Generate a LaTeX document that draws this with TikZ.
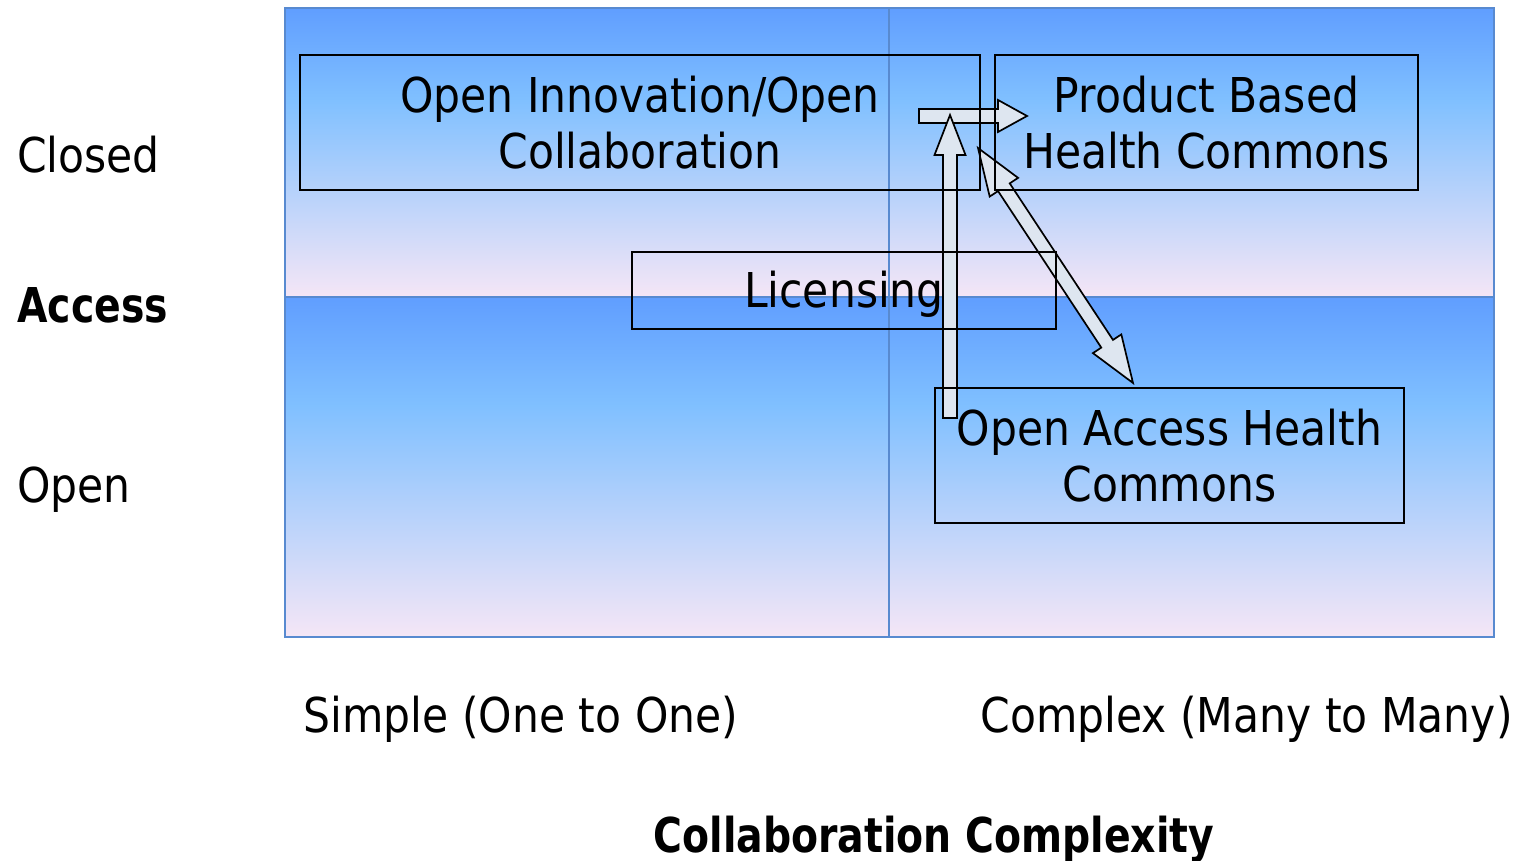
\documentclass[tikz,border=0pt]{standalone}
\usepackage{fontspec}
\setmainfont{DejaVu Sans}[FakeStretch=0.885, BoldFeatures={FakeStretch=0.82}]
\usetikzlibrary{calc}
\definecolor{qblue}{RGB}{96,158,255}
\definecolor{qlight}{RGB}{128,192,255}
\definecolor{qlav}{RGB}{245,230,246}
\definecolor{gridblue}{RGB}{88,138,208}
\definecolor{arrowfill}{RGB}{222,230,240}
\newcommand\mainfs{\fontsize{48}{56}\selectfont}
\tikzset{
 quadtop/.style={top color=qblue, bottom color=qlight, draw=none},
 quadbot/.style={top color=qlight, bottom color=qlav, draw=none},
 gridline/.style={draw=gridblue, line width=2.2pt},
 box/.style={draw=black, line width=1.9pt, fill=none, align=center, inner sep=0pt, font=\mainfs},
 blockarrow/.style={draw=black, fill=arrowfill, line width=1.7pt, line join=miter},
 lbl/.style={inner sep=0pt, font=\mainfs},
}
\newcommand\singlearrow[5]{%
 \coordinate (hb) at ($(#2)!#5!(#1)$);
 \draw[blockarrow] ($(#1)!#3!90:(#2)$) -- ($(hb)!#3!-90:(#1)$) -- ($(hb)!#4!-90:(#1)$) -- (#2)
   -- ($(hb)!#4!90:(#1)$) -- ($(hb)!#3!90:(#1)$) -- ($(#1)!#3!-90:(#2)$) -- cycle;
}
\newcommand\doublearrow[5]{%
 \coordinate (ha) at ($(#1)!#5!(#2)$);
 \coordinate (hb) at ($(#2)!#5!(#1)$);
 \draw[blockarrow] (#1) -- ($(ha)!#4!90:(#2)$) -- ($(ha)!#3!90:(#2)$) -- ($(hb)!#3!-90:(#1)$)
   -- ($(hb)!#4!-90:(#1)$) -- (#2) -- ($(hb)!#4!90:(#1)$) -- ($(hb)!#3!90:(#1)$)
   -- ($(ha)!#3!-90:(#2)$) -- ($(ha)!#4!-90:(#2)$) -- cycle;
}
\begin{document}
\begin{tikzpicture}[x=1pt,y=1pt]
\useasboundingbox (0,0) rectangle (1514,861);
% quadrants
\foreach \xa/\xb in {285/889,889/1494}{
  \fill[quadtop] (\xa,853) rectangle (\xb,760.5);
  \fill[quadbot] (\xa,760.5) rectangle (\xb,564);
  \fill[quadtop] (\xa,564) rectangle (\xb,455);
  \fill[quadbot] (\xa,455) rectangle (\xb,224);
}
\draw[gridline] (285,853) rectangle (1494,224);
\draw[gridline] (889,853) -- (889,224);
\draw[gridline] (285,564) -- (1494,564);
% axis labels
\node[lbl, anchor=base west] (closed) at (17,688) {Closed};
\node[lbl, anchor=base west, font=\mainfs\bfseries] (access) at (17,538) {Access};
\node[lbl, anchor=base west] (open) at (17,358) {Open};
\node[lbl, anchor=base] (simple) at (521,128) {Simple (One to One)};
\node[lbl, anchor=base] (complex) at (1246.5,128) {Complex (Many to Many)};
\node[lbl, anchor=base, font=\mainfs\bfseries] (axistitle) at (934,8) {Collaboration Complexity};
% arrows
\coordinate (hA) at (919,745);
\coordinate (hB) at (1027,745);
\coordinate (vA) at (950,443);
\coordinate (vB) at (950,746);
\coordinate (dA) at (978,713);
\coordinate (dB) at (1133,478);
\singlearrow{hA}{hB}{7pt}{16pt}{29pt}
\singlearrow{vA}{vB}{7pt}{15.5pt}{40pt}
\doublearrow{dA}{dB}{7pt}{17pt}{47pt}
% boxes
\node[box, minimum width=680pt, minimum height=135pt] (oi) at (640,738.5) {Open Innovation/Open\\Collaboration};
\node[box, minimum width=423pt, minimum height=135pt] (pb) at (1206.5,738.5) {Product Based\\Health Commons};
\node[box, minimum width=424pt, minimum height=77pt, text height=36pt, text depth=1pt] (lic) at (844,570.5) {Licensing};
\node[box, minimum width=469pt, minimum height=135pt] (oa) at (1169.5,405.5) {Open Access Health\\Commons};
\end{tikzpicture}
\end{document}
